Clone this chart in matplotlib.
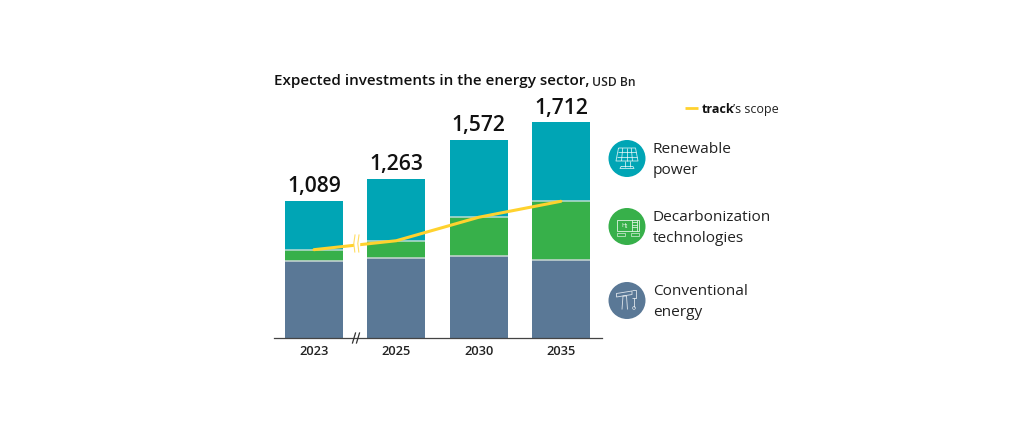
import matplotlib
matplotlib.use("Agg")
import matplotlib.pyplot as plt
from matplotlib.patches import Circle, Rectangle
import numpy as np

years = ["2023", "2025", "2030", "2035"]
totals = [1089, 1263, 1572, 1712]
conventional = [614, 635, 648, 622]
decarbonization = [87, 137, 310, 463]
renewable = [388, 491, 614, 627]
scope = [701, 772, 958, 1085]
legend_labels = ["Renewable\npower", "Decarbonization\ntechnologies", "Conventional\nenergy"]

TEAL, GREEN, SLATE, YELLOW = "#00A5B5", "#37B04A", "#5A7896", "#FFD22E"
FONT = "Open Sans"
plt.rcParams["font.family"] = [FONT, "DejaVu Sans"]

W, H = 1024, 429
fig = plt.figure(figsize=(W / 100, H / 100), dpi=100, facecolor="white")

# pixel overlay for decoration
ov = fig.add_axes([0, 0, 1, 1], zorder=3)
ov.set_xlim(0, W); ov.set_ylim(H, 0); ov.axis("off"); ov.patch.set_alpha(0)

# chart axes
x0, x1, ybase, ytop = 274, 602, 338, 90
ax = fig.add_axes([x0 / W, 1 - ybase / H, (x1 - x0) / W, (ybase - ytop) / H], zorder=2)
ax.patch.set_alpha(0)
ax.set_xlim(-0.486, 3.5)
ax.set_ylim(0, (ybase - ytop) / 0.126)
x = np.arange(len(years))
bw = 0.705
b1 = np.array(conventional)
b2 = b1 + np.array(decarbonization)
ax.bar(x, conventional, bw, color=SLATE, linewidth=0)
ax.bar(x, decarbonization, bw, bottom=b1, color=GREEN, linewidth=0)
ax.bar(x, renewable, bw, bottom=b2, color=TEAL, linewidth=0)
for xi, a, b in zip(x, b1, b2):
    ax.plot([xi - bw / 2, xi + bw / 2], [a, a], color="#c9d8d4", lw=1.1, solid_capstyle="butt")
    ax.plot([xi - bw / 2, xi + bw / 2], [b, b], color="#b9dcd4", lw=1.1, solid_capstyle="butt")
ax.plot(x, scope, color=YELLOW, lw=2.2, solid_capstyle="round", zorder=5)
for xi, t in zip(x, totals):
    ax.text(xi, t + 28, f"{t:,}", ha="center", va="bottom", fontsize=15.2, fontweight="semibold",
            color="#111111", family=FONT)

for s in ["top", "right", "left"]:
    ax.spines[s].set_visible(False)
ax.spines["bottom"].set_color("#444444")
ax.spines["bottom"].set_linewidth(0.9)
ax.set_yticks([])
ax.set_xticks(x, years, fontsize=9.3, fontweight="semibold", color="#222222")
ax.tick_params(axis="x", length=0, pad=5)

# axis and line breaks
ov.plot([352.5, 355.5], [343, 333], color="#333333", lw=0.9)
ov.plot([356.5, 359.5], [343, 333], color="#333333", lw=0.9)
ov.add_patch(Rectangle((354.3, 236), 4.2, 16, color="white", zorder=6))
ov.plot([355, 353.8, 354.8], [235, 243.5, 252], color=YELLOW, lw=0.8, alpha=0.75, zorder=7)
ov.plot([359, 357.8, 358.8], [235, 243.5, 252], color=YELLOW, lw=0.8, alpha=0.75, zorder=7)

# title
ov.text(274, 81.5, "Expected investments in the energy sector,", fontsize=10.95, fontweight="semibold",
        color="#111111", va="center", ha="left")
ov.text(592.5, 82.5, "USD Bn", fontsize=8.7, fontweight="semibold", color="#222222", va="center", ha="left")

# scope key
ov.plot([685, 698], [108, 108], color=YELLOW, lw=2, solid_capstyle="butt")
ov.text(702, 109.5, "track", fontsize=9, fontweight="bold", color="#111111", va="center", ha="left")
ov.text(733, 109.5, "\u2019s scope", fontsize=9, color="#222222", va="center", ha="left")

# legend
centres = [158.5, 226.5, 300.5]
for cy, col, lab in zip(centres, [TEAL, GREEN, SLATE], legend_labels):
    ov.add_patch(Circle((627, cy), 18.5, color=col, lw=0))
    ov.text(653, cy + 1.5, lab, fontsize=11.1, color="#222222", va="center", ha="left", linespacing=1.55)

lk = dict(color="white", lw=0.6, alpha=0.8, solid_capstyle="butt")
# solar panel icon
cy = centres[0]
ov.plot([618.5, 635.5, 638, 616, 618.5], [cy - 10.5, cy - 10.5, cy + 2.5, cy + 2.5, cy - 10.5], **lk)
for f in (1 / 3, 2 / 3):
    ov.plot([618.5 - 2.5 * f, 635.5 + 2.5 * f], [cy - 10.5 + 13 * f] * 2, **lk)
for f in (0.25, 0.5, 0.75):
    ov.plot([618.5 + 17 * f, 616 + 22 * f], [cy - 10.5, cy + 2.5], **lk)
ov.plot([624.5, 624.5], [cy + 2.5, cy + 8], **lk)
ov.plot([629.5, 629.5], [cy + 2.5, cy + 8], **lk)
ov.plot([621, 633, 634, 620, 621], [cy + 8, cy + 8, cy + 10, cy + 10, cy + 8], **lk)
# decarbonization plant icon
cy = centres[1]
ov.add_patch(Rectangle((616.5, cy - 7), 22.5, 11, fill=False, ec="white", lw=0.6, alpha=0.85))
ov.text(624.5, cy - 1.5, "H\u2082", fontsize=4.2, color="white", ha="center", va="center")
ov.plot([632, 632], [cy - 7, cy + 4], **lk)
ov.plot([637, 637], [cy - 7, cy + 4], **lk)
for d in (-4.5, -2, 0.5):
    ov.plot([632, 637], [cy + d, cy + d], **lk)
for cx in (617, 631):
    ov.add_patch(Rectangle((cx, cy + 6), 7.5, 3.5, fill=False, ec="white", lw=0.5, alpha=0.8))
# pumpjack icon
cy = centres[2]
ov.plot([616.5, 632, 632, 616.5, 616.5], [cy - 7, cy - 9.5, cy - 6, cy - 3.5, cy - 7], **lk)
ov.plot([622, 623, 626.5, 627.5], [cy + 9, cy - 4.5, cy - 4.5, cy + 9], **lk)
ov.plot([632, 636, 636, 632], [cy - 11, cy - 11, cy - 3, cy - 3], **lk)
ov.plot([634, 634], [cy - 3, cy + 6], **lk)
ov.add_patch(Circle((634, cy + 7.5), 1.4, fill=False, ec="white", lw=0.5, alpha=0.8))

fig.savefig("out.png", dpi=100, facecolor="white")
